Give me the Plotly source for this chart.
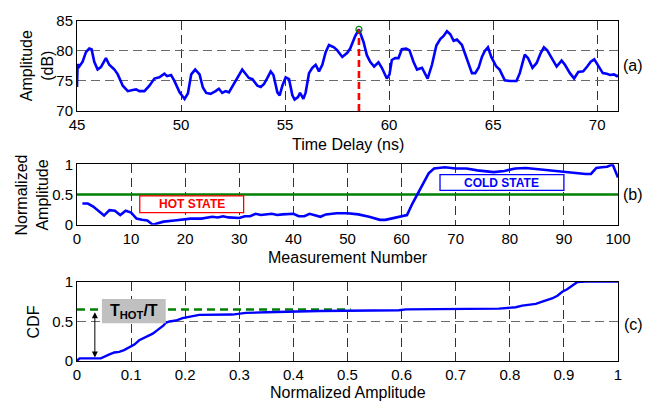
import plotly.graph_objects as go

# ---------------- Panel (a): amplitude vs time delay ----------------
time_ns = [45.0, 45.03, 45.11, 45.27, 45.43, 45.59, 45.7, 45.83, 45.99, 46.15, 46.39, 46.55, 46.8, 46.96,
           47.2, 47.44, 47.68, 47.84, 48.0, 48.24, 48.48, 48.72, 48.96, 49.2, 49.33, 49.52, 49.68, 49.93,
           50.17, 50.33, 50.49, 50.68, 50.89, 51.05, 51.21, 51.42, 51.66, 51.82, 51.98, 52.14, 52.3, 52.54,
           52.78, 52.94, 53.1, 53.26, 53.43, 53.67, 53.83, 53.99, 54.15, 54.31, 54.44, 54.63, 54.74, 54.87,
           55.03, 55.19, 55.35, 55.46, 55.62, 55.72, 55.88, 55.99, 56.15, 56.31, 56.47, 56.63, 56.79, 56.95,
           57.11, 57.35, 57.51, 57.75, 57.99, 58.13, 58.37, 58.55, 58.77, 58.93, 59.09, 59.28, 59.49, 59.65,
           59.89, 60.02, 60.13, 60.29, 60.45, 60.61, 60.82, 60.98, 61.17, 61.34, 61.58, 61.74, 61.85, 62.06,
           62.27, 62.46, 62.62, 62.78, 62.94, 63.1, 63.26, 63.5, 63.66, 63.82, 63.98, 64.14, 64.3, 64.46,
           64.6, 64.75, 64.91, 65.15, 65.31, 65.56, 65.8, 66.12, 66.28, 66.52, 66.68, 66.89, 67.09, 67.28,
           67.44, 67.6, 67.81, 68.05, 68.29, 68.45, 68.69, 68.89, 69.09, 69.33, 69.52, 69.69, 69.86, 70.06,
           70.27, 70.46, 70.62, 70.81, 70.94, 71.0]
amp_db = [74.0, 77.8, 77.4, 78.2, 79.8, 80.4, 80.3, 78.2, 76.9, 77.3, 78.8, 77.7, 76.9, 76.1,
          74.2, 73.3, 73.5, 73.6, 73.3, 73.3, 74.2, 75.4, 75.6, 76.2, 75.8, 76.0, 75.0, 73.1,
          72.0, 72.9, 76.1, 76.9, 76.1, 73.9, 73.0, 72.85, 73.3, 73.7, 73.0, 73.3, 73.1, 74.5,
          75.8, 76.9, 76.2, 75.5, 75.3, 74.2, 74.0, 74.5, 75.5, 76.6, 76.0, 73.1, 72.6, 74.2,
          75.6, 75.3, 72.6, 71.9, 72.3, 73.0, 72.0, 73.1, 76.3, 77.2, 77.7, 76.6, 77.7, 79.8,
          81.0, 80.6, 80.1, 79.0, 79.7, 80.4, 82.5, 83.6, 81.5, 79.3, 78.2, 77.4, 78.1, 77.2,
          75.4, 76.1, 78.5, 78.8, 78.8, 80.3, 80.4, 80.1, 78.2, 76.9, 77.2, 76.1, 75.4, 77.7,
          80.9, 82.0, 82.5, 83.3, 82.8, 81.7, 81.9, 81.0, 79.3, 77.7, 76.3, 76.3, 77.2, 79.0,
          80.0, 80.6, 79.0, 77.4, 76.9, 75.1, 75.0, 75.0, 76.3, 79.4, 78.8, 77.2, 78.0, 79.6,
          80.6, 80.1, 78.8, 77.4, 78.4, 77.7, 76.3, 75.4, 76.5, 76.6, 77.4, 78.2, 78.6, 77.4,
          76.3, 76.2, 76.0, 76.1, 75.8, 76.0]
peak_time = 58.55
peak_db = 83.6
a_xticks = [45, 50, 55, 60, 65, 70]
a_yticks = [70, 75, 80, 85]

# ---------------- Panel (b): normalized amplitude per measurement ----------------
meas_n = [1, 2, 3, 5, 6, 7, 8, 9, 10, 11, 12, 13, 14, 15, 16, 18, 19, 20, 21, 23, 25, 26, 27, 28,
          30, 31, 32, 33, 34, 36, 37, 38, 40, 41, 42, 43, 44, 45, 46, 48, 50, 52, 54, 56, 57, 59,
          61, 62, 63, 64, 65, 66, 68, 70, 72, 74, 77, 79, 81, 83, 85, 87, 89, 92, 94, 95, 96, 97,
          98, 99, 100]
norm_amp = [0.35, 0.35, 0.30, 0.15, 0.24, 0.23, 0.16, 0.23, 0.20, 0.10, 0.08, 0.07, 0.00, 0.03,
            0.05, 0.07, 0.08, 0.09, 0.10, 0.10, 0.13, 0.12, 0.14, 0.12, 0.11, 0.14, 0.14, 0.18,
            0.16, 0.18, 0.16, 0.17, 0.18, 0.14, 0.14, 0.18, 0.16, 0.13, 0.17, 0.19, 0.19, 0.17,
            0.13, 0.08, 0.08, 0.12, 0.16, 0.35, 0.52, 0.70, 0.85, 0.93, 0.95, 0.93, 0.93, 0.90,
            0.87, 0.89, 0.93, 0.94, 0.92, 0.90, 0.89, 0.86, 0.84, 0.84, 0.94, 0.95, 0.96, 1.00,
            0.78]
threshold = 0.5
b_xticks = [0, 10, 20, 30, 40, 50, 60, 70, 80, 90, 100]
b_yticks = [0, 0.5, 1]
b_yticklabels = ["0", "0.5", "1"]

# ---------------- Panel (c): CDF of normalized amplitude ----------------
cdf_x = [0.0, 0.005, 0.044, 0.050, 0.060, 0.069, 0.078, 0.087, 0.097, 0.106, 0.115, 0.127, 0.140,
         0.148, 0.160, 0.164, 0.171, 0.183, 0.195, 0.214, 0.226, 0.287, 0.312, 0.349, 0.448, 0.595,
         0.608, 0.780, 0.811, 0.823, 0.848, 0.860, 0.878, 0.888, 0.897, 0.906, 0.919, 0.925, 0.940, 1.0]
cdf_y = [0.004, 0.033, 0.033, 0.054, 0.083, 0.108, 0.115, 0.137, 0.178, 0.207, 0.261, 0.303, 0.345,
         0.386, 0.448, 0.481, 0.498, 0.510, 0.540, 0.565, 0.581, 0.585, 0.606, 0.614, 0.630, 0.640,
         0.650, 0.660, 0.677, 0.698, 0.719, 0.747, 0.788, 0.822, 0.872, 0.905, 0.967, 0.996, 1.0, 1.0]
t_hot_ratio = 0.648
c_xticks = [0, 0.1, 0.2, 0.3, 0.4, 0.5, 0.6, 0.7, 0.8, 0.9, 1]
c_xticklabels = ["0", "0.1", "0.2", "0.3", "0.4", "0.5", "0.6", "0.7", "0.8", "0.9", "1"]
c_yticks = [0, 0.5, 1]
c_yticklabels = ["0", "0.5", "1"]

FONT = "Liberation Sans, Arial, Helvetica, sans-serif"
BLUE = "#0000ff"
GREEN = "#008000"

fig = go.Figure()

fig.add_trace(go.Scatter(x=time_ns, y=amp_db, mode="lines", line=dict(color=BLUE, width=2.6),
                         xaxis="x", yaxis="y", showlegend=False))
fig.add_trace(go.Scatter(x=[peak_time, peak_time], y=[70, peak_db], mode="lines",
                         line=dict(color="#ff0000", width=2.6, dash="7px,4px"),
                         xaxis="x", yaxis="y", showlegend=False))
fig.add_trace(go.Scatter(x=[peak_time], y=[peak_db], mode="markers",
                         marker=dict(symbol="circle-open", color=GREEN, size=6, line=dict(width=1.2)),
                         xaxis="x", yaxis="y", showlegend=False))

fig.add_trace(go.Scatter(x=[0, 100], y=[threshold, threshold], mode="lines",
                         line=dict(color=GREEN, width=2.6), xaxis="x2", yaxis="y2", showlegend=False))
fig.add_trace(go.Scatter(x=meas_n, y=norm_amp, mode="lines", line=dict(color=BLUE, width=2.6),
                         xaxis="x2", yaxis="y2", showlegend=False))

fig.add_trace(go.Scatter(x=[0, 0.506], y=[t_hot_ratio, t_hot_ratio], mode="lines",
                         line=dict(color=GREEN, width=2.6, dash="8px,5px"),
                         xaxis="x3", yaxis="y3", showlegend=False))
fig.add_trace(go.Scatter(x=cdf_x, y=cdf_y, mode="lines", line=dict(color=BLUE, width=2.4),
                         xaxis="x3", yaxis="y3", showlegend=False))

tickfont = dict(family=FONT, size=15, color="black")
common = dict(showline=True, linecolor="black", linewidth=1, mirror=True, zeroline=False,
              ticks="", tickfont=tickfont, showgrid=True, griddash="9px,5px", gridwidth=1)
xgrid = dict(common, gridcolor="#333333")
ygrid = dict(common, gridcolor="#6a6a6a")

fig.update_layout(
    width=654, height=405,
    margin=dict(l=77, r=36, t=17, b=44),
    paper_bgcolor="white", plot_bgcolor="white",
    font=dict(family=FONT, size=16, color="black"),
    xaxis=dict(xgrid, domain=[0, 1], range=[45, 71], tickvals=a_xticks, anchor="y"),
    yaxis=dict(ygrid, domain=[0.7355, 1], range=[70, 85], tickvals=a_yticks, anchor="x"),
    xaxis2=dict(xgrid, domain=[0, 1], range=[0, 100], tickvals=b_xticks, anchor="y2"),
    yaxis2=dict(ygrid, domain=[0.401, 0.5785], range=[0, 1], tickvals=b_yticks,
                ticktext=b_yticklabels, anchor="x2"),
    xaxis3=dict(xgrid, domain=[0, 1], range=[0, 1], tickvals=c_xticks, ticktext=c_xticklabels,
                anchor="y3"),
    yaxis3=dict(ygrid, domain=[0, 0.2334], range=[0, 1], tickvals=c_yticks,
                ticktext=c_yticklabels, anchor="x3"),
)

shapes = [
    dict(type="rect", xref="x2", yref="y2", x0=11.6, x1=30.8, y0=0.2, y1=0.476,
         line=dict(color="#ff0000", width=1.3), fillcolor="white", layer="above"),
    dict(type="rect", xref="x2", yref="y2", x0=67.1, x1=90.0, y0=0.568, y1=0.828,
         line=dict(color=BLUE, width=1.3), fillcolor="white", layer="above"),
    dict(type="rect", xref="x3", yref="y3", x0=0.046, x1=0.164, y0=0.477, y1=0.781,
         line=dict(width=0), fillcolor="#c0c0c0", layer="above"),
]
fig.update_layout(shapes=shapes)

ann = []
ann.append(dict(xref="x2", yref="y2", x=21.2, y=0.338, text="<b>HOT STATE</b>", showarrow=False,
                font=dict(family=FONT, size=12, color="#ff0000")))
ann.append(dict(xref="x2", yref="y2", x=78.55, y=0.698, text="<b>COLD STATE</b>", showarrow=False,
                font=dict(family=FONT, size=12, color=BLUE)))
ann.append(dict(xref="x3", yref="y3", x=0.105, y=0.629, text="<b>T<sub>HOT</sub>/T</b>",
                showarrow=False, font=dict(family=FONT, size=16, color="black")))
ann.append(dict(xref="x3", yref="y3", axref="x3", ayref="y3", x=0.033, y=0.614, ax=0.033, ay=0.025,
                text="", showarrow=True, arrowhead=2, startarrowhead=2, arrowside="end+start",
                arrowsize=1.2, startarrowsize=1.2, arrowwidth=1, arrowcolor="black",
                standoff=0, startstandoff=0))
for lab, yp in [("(a)", 0.869), ("(b)", 0.491), ("(c)", 0.1076)]:
    ann.append(dict(xref="paper", yref="paper", x=1.028, y=yp, text=lab, showarrow=False,
                    xanchor="center", yanchor="middle", font=dict(family=FONT, size=16)))
ann.append(dict(xref="paper", yref="paper", x=-0.0745, y=0.869, text="Amplitude<br>(dB)",
                textangle=-90, showarrow=False, xanchor="center", yanchor="middle",
                font=dict(family=FONT, size=16)))
ann.append(dict(xref="paper", yref="paper", x=-0.0825, y=0.488, text="Normalized<br>Amplitude",
                textangle=-90, showarrow=False, xanchor="center", yanchor="middle",
                font=dict(family=FONT, size=16)))
ann.append(dict(xref="paper", yref="paper", x=-0.0810, y=0.114, text="CDF",
                textangle=-90, showarrow=False, xanchor="center", yanchor="middle",
                font=dict(family=FONT, size=16)))
ann.append(dict(xref="paper", yref="paper", x=0.5, y=0.6366, text="Time Delay (ns)",
                showarrow=False, xanchor="center", yanchor="middle", font=dict(family=FONT, size=16)))
ann.append(dict(xref="paper", yref="paper", x=0.5, y=0.3032, text="Measurement Number",
                showarrow=False, xanchor="center", yanchor="middle", font=dict(family=FONT, size=16)))
ann.append(dict(xref="paper", yref="paper", x=0.5, y=-0.093, text="Normalized Amplitude",
                showarrow=False, xanchor="center", yanchor="middle", font=dict(family=FONT, size=16)))
fig.update_layout(annotations=ann)

fig.write_html("out.html",
               config={"displayModeBar": False},
               post_script="document.body.style.margin='0';document.body.style.padding='0';"
                           "document.documentElement.style.overflow='hidden';")
